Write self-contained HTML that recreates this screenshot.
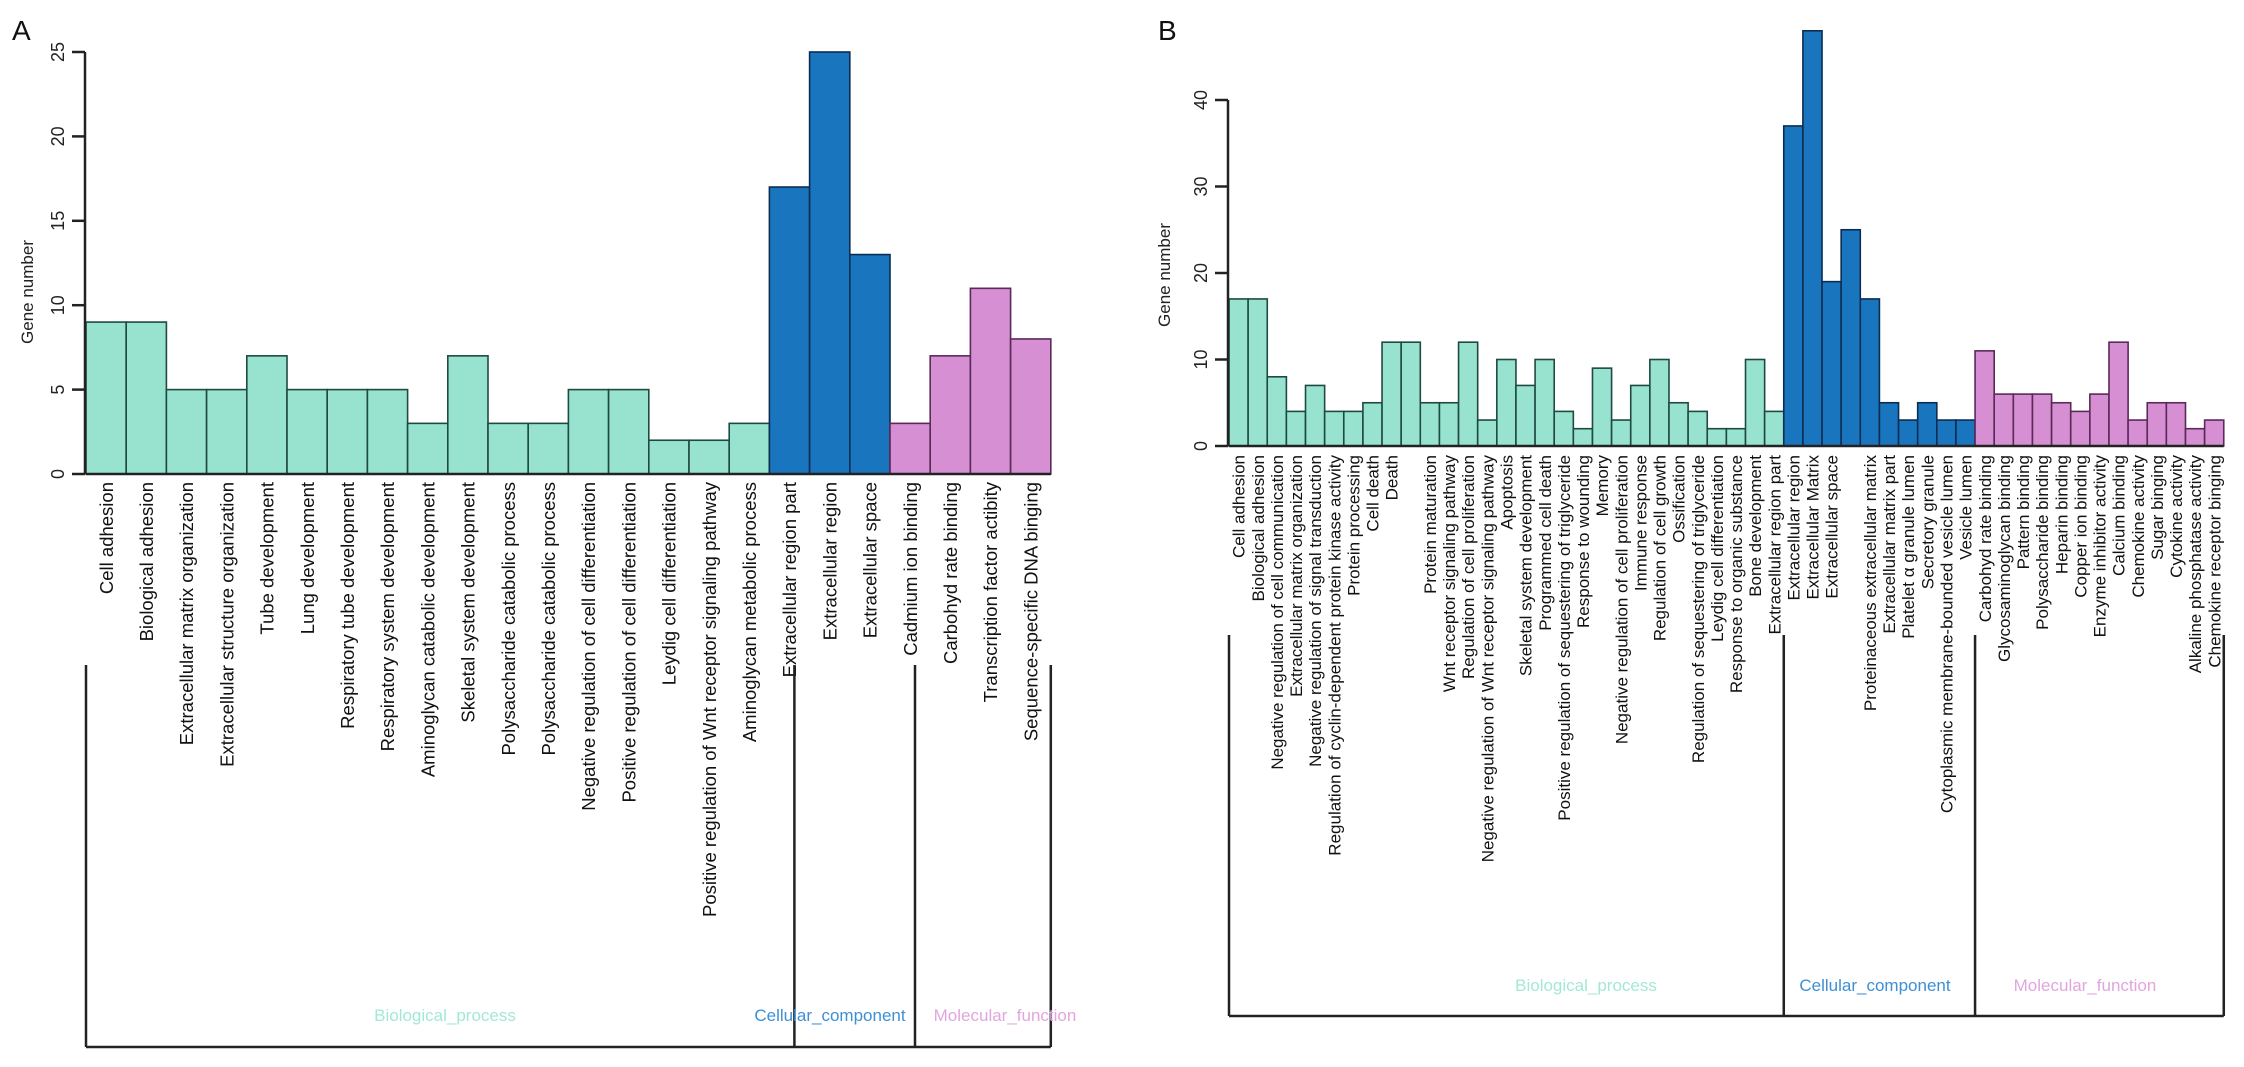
<!DOCTYPE html>
<html><head><meta charset="utf-8"><style>
html,body{margin:0;padding:0;background:#fff;}
svg{display:block;font-family:"Liberation Sans",Arial,sans-serif;}
</style></head><body>
<svg id="fig" width="2244" height="1067" viewBox="0 0 2244 1067" xmlns="http://www.w3.org/2000/svg"></svg>
<script>
// ---------- Panel A data ----------
const catsA_BP = ["Cell adhesion","Biological adhesion","Extracellular matrix organization","Extracellular structure organization","Tube development","Lung development","Respiratory tube development","Respiratory system development","Aminoglycan catabolic development","Skeletal system development","Polysaccharide catabolic process","Polysaccharide catabolic process","Negative regulation of cell differentiation","Positive regulation of cell differentiation","Leydig cell differentiation","Positive regulation of Wnt receptor signaling pathway","Aminoglycan metabolic process"];
const valsA_BP = [9,9,5,5,7,5,5,5,3,7,3,3,5,5,2,2,3];
const catsA_CC = ["Extracellular region part","Extracellular region","Extracellular space"];
const valsA_CC = [17,25,13];
const catsA_MF = ["Cadmium ion binding","Carbohyd rate binding","Transcription factor actibity","Sequence-specific DNA binging"];
const valsA_MF = [3,7,11,8];
const ticksA = [0,5,10,15,20,25];
const tickLabelsA = ["0","5","10","15","20","25"];

// ---------- Panel B data ----------
const catsB_BP = ["Cell adhesion","Biological adhesion","Negative regulation of cell communication","Extracellular matrix organization","Negative regulation of signal transduction","Regulation of cyclin-dependent protein kinase activity","Protein processing","Cell death","Death","","Protein maturation","Wnt receptor signaling pathway","Regulation of cell proliferation","Negative regulation of Wnt receptor signaling pathway","Apoptosis","Skeletal system development","Programmed cell death","Positive regulation of sequestering of triglyceride","Response to wounding","Memory","Negative regulation of cell proliferation","Immune response","Regulation of cell growth","Ossification","Regulation of sequestering of triglyceride","Leydig cell differentiation","Response to organic substance","Bone development","Extracellular region part"];
const valsB_BP = [17,17,8,4,7,4,4,5,12,12,5,5,12,3,10,7,10,4,2,9,3,7,10,5,4,2,2,10,4];
const catsB_CC = ["Extracellular region","Extracellular Matrix","Extracellular space","","Proteinaceous extracellular matrix","Extracellular matrix part","Platelet α granule lumen","Secretory granule","Cytoplasmic membrane-bounded vesicle lumen","Vesicle lumen"];
const valsB_CC = [37,48,19,25,17,5,3,5,3,3];
const catsB_MF = ["Carbohyd rate binding","Glycosaminoglycan binding","Pattern binding","Polysaccharide binding","Heparin binding","Copper ion binding","Enzyme inhibitor activity","Calcium binding","Chemokine activity","Sugar binging","Cytokine activity","Alkaline phosphatase activity","Chemokine receptor binging"];
const valsB_MF = [11,6,6,6,5,4,6,12,3,5,5,2,3];
const ticksB = [0,10,20,30,40];
const tickLabelsB = ["0","10","20","30","40"];

const NS = "http://www.w3.org/2000/svg";
const svg = document.getElementById('fig');
const COLORS = {BP:["#97e3cf","#1f4a42"],CC:["#1a75bf","#0c2d52"],MF:["#d58fd2","#5a2a58"]};
const GROUPTXT = {BP:["Biological_process","#a3e8d6"],CC:["Cellular_component","#3d8fd6"],MF:["Molecular_function","#e2a6df"]};
function mk(tag, attrs, parent){const e=document.createElementNS(NS,tag);for(const k in attrs)e.setAttribute(k,attrs[k]);(parent||svg).appendChild(e);return e;}

function panel(cfg){
  const g = mk('g',{});
  
  
  const yScale = v => cfg.y0 - (v - 0) * (cfg.y0 - cfg.yTop) / (cfg.yMax);
  const groups = [["BP",cfg.bp[0],cfg.bp[1]],["CC",cfg.cc[0],cfg.cc[1]],["MF",cfg.mf[0],cfg.mf[1]]];
  let idx = 0;
  const bounds = [];
  groups.forEach(([key,cats,vals])=>{
    const startIdx = idx;
    vals.forEach((v,i)=>{
      const x = cfg.x0 + idx*cfg.bw;
      const r = mk('rect',{x:x,y:yScale(v),width:cfg.bw,height:cfg.y0-yScale(v),fill:COLORS[key][0],stroke:COLORS[key][1],'stroke-width':1.6},g);
      
      
      if(cats[i]){
        const cx = x + cfg.bw/2 + cfg.fs*0.36;
        const t = mk('text',{transform:`translate(${cx},${cfg.labTop}) rotate(-90)`,'text-anchor':'end','font-size':cfg.fs,fill:'#111'},g);
        t.textContent = cats[i];
        
        
      }
      idx++;
    });
    bounds.push([key, cfg.x0+startIdx*cfg.bw, cfg.x0+idx*cfg.bw]);
  });
  // baseline
  const bl = mk('line',{x1:cfg.x0,x2:cfg.x0+idx*cfg.bw,y1:cfg.y0,y2:cfg.y0,stroke:'#222','stroke-width':2.5},g);
  
  
  // y axis
  const ya = mk('line',{x1:cfg.x0-1,x2:cfg.x0-1,y1:yScale(cfg.ticks[cfg.ticks.length-1]),y2:cfg.y0,stroke:'#222','stroke-width':2.5},g);
  
  
  cfg.ticks.forEach((tv,i)=>{
    const y = yScale(tv);
    const tk = mk('line',{x1:cfg.x0-14,x2:cfg.x0-1,y1:y,y2:y,stroke:'#222','stroke-width':2.5},g);
    
    
    const tl = mk('text',{transform:`translate(${cfg.x0-22},${y}) rotate(-90)`,'text-anchor':'middle','font-size':18,fill:'#222'},g);
    tl.textContent = cfg.tickLabels[i];
    
    
  });
  const yt = mk('text',{transform:`translate(${cfg.ytX},${cfg.ytY}) rotate(-90)`,'text-anchor':'middle','font-size':17,fill:'#222'},g);
  yt.textContent = 'Gene number';
  
  
  const pl = mk('text',{x:cfg.letterX,y:40,'font-size':28,fill:'#111'},g);
  pl.textContent = cfg.letter;
  
  
  // group brackets
  const endX = cfg.x0+idx*cfg.bw;
  const divs = [cfg.x0, bounds[0][2]+cfg.divOff, bounds[1][2]+cfg.divOff, endX];
  const hb = mk('line',{x1:cfg.x0,x2:endX,y1:cfg.brBot,y2:cfg.brBot,stroke:'#222','stroke-width':2.5},g);
  
  
  divs.forEach(dx=>{
    const vl = mk('line',{x1:dx,x2:dx,y1:cfg.brTop,y2:cfg.brBot,stroke:'#222','stroke-width':2.5},g);
    
    
  });
  ["BP","CC","MF"].forEach((k,i)=>{
    const gt = mk('text',{x:cfg.grpX[i],y:cfg.grpY,'text-anchor':'middle','font-size':17,fill:GROUPTXT[k][1]},g);
    gt.textContent = GROUPTXT[k][0];
    
    
  });
}

panel({name:'panel-a',letter:'A',letterX:12,x0:86,bw:40.2,y0:474,yTop:52,yMax:25,ticks:ticksA,tickLabels:tickLabelsA,
  bp:[catsA_BP,valsA_BP],cc:[catsA_CC,valsA_CC],mf:[catsA_MF,valsA_MF],fs:18.5,labTop:482,
  ytX:33,ytY:292,divOff:25,brTop:665,brBot:1047,grpX:[445,830,1005],grpY:1021});
panel({name:'panel-b',letter:'B',letterX:1158,x0:1229,bw:19.13,y0:446,yTop:100,yMax:40,ticks:ticksB,tickLabels:tickLabelsB,
  bp:[catsB_BP,valsB_BP],cc:[catsB_CC,valsB_CC],mf:[catsB_MF,valsB_MF],fs:17,labTop:455,
  ytX:1170,ytY:275,divOff:0,brTop:635,brBot:1016,grpX:[1586,1875,2085],grpY:991});
</script>
</body></html>
